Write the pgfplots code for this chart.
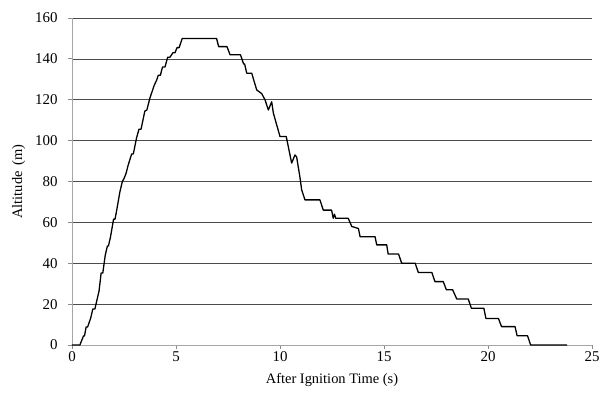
\documentclass[border=0pt]{standalone}
\usepackage{fontspec}
\setmainfont{Liberation Serif}
\usepackage{pgfplots}
\pgfplotsset{compat=1.18}
\begin{document}
\begin{tikzpicture}
\begin{axis}[
  scale only axis,
  width=520bp, height=327bp,
  xmin=0, xmax=25, ymin=0, ymax=160,
  xtick={0,5,10,15,20,25},
  ytick={0,20,40,60,80,100,120,140,160},
  axis x line*=bottom,
  axis y line*=left,
  axis line style={black!35, line width=0.8pt, -},
  tick style={black!45, line width=0.8pt},
  tick align=outside,
  major tick length=4bp,
  ymajorgrids,
  major grid style={black!70, line width=0.7pt},
  /pgf/number format/assume math mode=true,
  tick label style={font=\fontsize{15}{17}\selectfont},
  label style={font=\fontsize{14.5}{17}\selectfont},
  xlabel={After Ignition Time (s)},
  ylabel={Altitude\, (m)},
  xlabel style={yshift=-5bp},
  ylabel style={yshift=3bp},
  yticklabel style={xshift=-7bp},
  xticklabel style={yshift=1bp},
  clip=false,
]
\addplot[black, line width=1.3pt, line join=round] coordinates {
(0,0)(0.38,0)(0.55,4.4)(0.6,4.4)(0.68,8.8)(0.75,8.8)(0.9,13.2)(1.0,17.6)(1.1,17.6)
(1.2,22)(1.3,26.4)(1.4,35.2)(1.48,35.2)(1.6,44)(1.7,48.4)(1.75,48.4)(1.85,52.8)
(2.0,61.6)(2.07,61.6)(2.15,66)(2.3,74.8)(2.42,80)(2.5,81.4)(2.6,84)(2.7,88)
(2.87,93.5)(2.95,93.5)(3.1,101.2)(3.22,105.6)(3.32,105.6)(3.5,114.4)(3.6,115)
(3.75,121)(3.85,124)(3.95,127)(4.07,129.6)(4.15,132)(4.25,132)(4.35,136)(4.47,136)
(4.6,140.8)(4.71,140.8)(4.85,143)(4.95,143)(5.05,145.5)(5.15,145.5)(5.3,150)
(6.95,150)(7.05,146)(7.45,146)(7.6,142)(8.1,142)(8.25,137.5)(8.3,137.5)(8.4,133)
(8.64,133)(8.88,124.8)(9.12,123)(9.28,120)(9.44,115)(9.6,119)(9.68,113.5)
(10.0,102)(10.3,102)(10.56,89)(10.72,93)(10.8,92)(10.96,82)(11.04,76)(11.2,71)
(11.92,71)(12.08,66)(12.48,66)(12.56,62)(12.62,64)(12.68,62)(13.28,62)(13.45,58)
(13.77,57)(13.85,53)(14.57,53)(14.65,49)(15.13,49)(15.2,44.5)(15.7,44.5)(15.85,40)
(16.5,40)(16.65,35.5)(17.3,35.5)(17.45,31)(17.85,31)(18.0,27)(18.3,27)(18.5,22.5)
(19.05,22.5)(19.2,18)(19.8,18)(19.9,13)(20.5,13)(20.65,9)(21.3,9)(21.4,4.5)
(21.9,4.5)(22.05,0)(23.8,0)
};
\end{axis}
\pgfresetboundingbox
\path ([shift={(-72bp,-49bp)}]current axis.south west) rectangle ([shift={(14bp,18bp)}]current axis.north east);
\end{tikzpicture}
\end{document}
